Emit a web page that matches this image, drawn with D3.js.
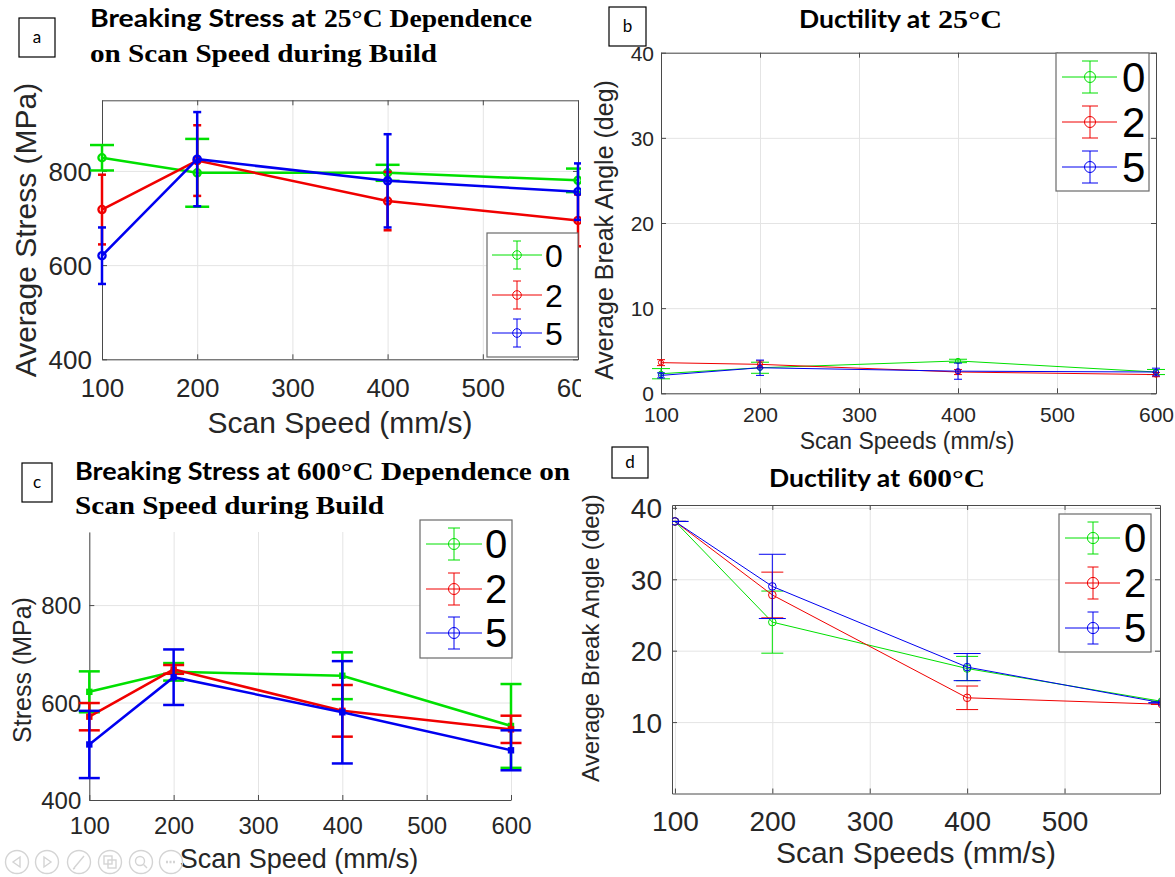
<!DOCTYPE html>
<html><head><meta charset="utf-8">
<script src="https://cdn.jsdelivr.net/npm/d3@7"></script>
<style>body{margin:0;background:#fff}svg{display:block}</style>
</head><body><svg id="c" width="1175" height="877"></svg>
<script>
// ---------- data ----------
const speeds = [100, 200, 400, 600];
const seriesNames = ["0", "2", "5"];
const speedTicks = [100, 200, 300, 400, 500, 600];
const speedTicksD = [100, 200, 300, 400, 500];
const stressTicks = [400, 600, 800];
const angleTicksB = [0, 10, 20, 30, 40];
const angleTicksD = [10, 20, 30, 40];

// (a) breaking stress at 25°C
const stress25_0 = [828, 796, 796, 780];
const stress25_0Err = [27, 72, 17, 25];
const stress25_2 = [718, 822, 736, 695];
const stress25_2Err = [74, 75, 62, 55];
const stress25_5 = [620, 825, 779, 756];
const stress25_5Err = [60, 100, 99, 60];

// (b) ductility at 25°C
const duct25_0 = [2.3, 3.0, 3.8, 2.5];
const duct25_0Err = [0.6, 0.65, 0.2, 0.3];
const duct25_2 = [3.6, 3.4, 2.5, 2.2];
const duct25_2Err = [0.35, 0.4, 0.3, 0.25];
const duct25_5 = [2.1, 3.0, 2.6, 2.5];
const duct25_5Err = [0.3, 0.9, 0.95, 0.45];

// (c) breaking stress at 600°C
const stress600_0 = [622, 663, 655, 552];
const stress600_0Err = [42, 18, 48, 86];
const stress600_2 = [571, 668, 583, 545];
const stress600_2Err = [28, 9, 53, 28];
const stress600_5 = [514, 652, 580, 502];
const stress600_5Err = [69, 57, 105, 41];

// (d) ductility at 600°C
const duct600_0 = [38.1, 24.0, 17.5, 12.9];
const duct600_0Err = [0, 4.35, 1.7, 0];
const duct600_2 = [38.1, 27.8, 13.4, 12.5];
const duct600_2Err = [0, 3.2, 1.65, 0];
const duct600_5 = [38.1, 29.0, 17.7, 12.7];
const duct600_5Err = [0, 4.5, 1.9, 0];

// ---------- style ----------
const colors = ["#00e000", "#f00000", "#0000f0"];
const axisColor = "#4a4a4a";
const gridColor = "#e4e4e4";
const textColor = "#262626";
const sans = "'Liberation Sans', Arial, sans-serif";
const serif = "'Liberation Serif', 'Times New Roman', serif";
const calib = "Lato, 'Open Sans', sans-serif";

const svg = d3.select("#c");
const defs = svg.append("defs");

function clip(id, r) {
  defs.append("clipPath").attr("id", id).append("rect")
    .attr("x", r[0]).attr("y", r[1]).attr("width", r[2]).attr("height", r[3]);
  return `url(#${id})`;
}

function drawPanel(cfg) {
  const root = svg.append("g");
  if (cfg.clip) root.attr("clip-path", clip("clip_" + cfg.id, cfg.clip));
  const x = d3.scaleLinear().domain(cfg.xDomain).range(cfg.xRange);
  const y = d3.scaleLinear().domain(cfg.yDomain).range(cfg.yRange);
  const [x0, x1] = cfg.xRange, [yb, yt] = cfg.yRange;
  const w = x1 - x0, h = yb - yt;

  // grid
  root.append("g").attr("transform", `translate(0,${yb})`)
    .call(d3.axisBottom(x).tickValues(cfg.gridX).tickSize(-h).tickFormat(""))
    .call(s => { s.select(".domain").remove(); s.selectAll("line").attr("stroke", gridColor); });
  root.append("g").attr("transform", `translate(${x0},0)`)
    .call(d3.axisLeft(y).tickValues(cfg.gridY).tickSize(-w).tickFormat(""))
    .call(s => { s.select(".domain").remove(); s.selectAll("line").attr("stroke", gridColor); });

  // axes
  const xa = root.append("g").attr("transform", `translate(0,${yb})`)
    .call(d3.axisBottom(x).tickValues(cfg.xTicks).tickSizeInner(-5).tickSizeOuter(0).tickFormat(d3.format("d")));
  xa.selectAll("text").attr("y", cfg.xTickOff).attr("dy", "0.36em")
    .attr("font-size", cfg.tickFont).attr("font-family", sans).attr("fill", textColor);
  const ya = root.append("g").attr("transform", `translate(${x0},0)`)
    .call(d3.axisLeft(y).tickValues(cfg.yTicks).tickSizeInner(-5).tickSizeOuter(0).tickFormat(d3.format("d")));
  ya.selectAll("text").attr("x", -cfg.yTickOff).attr("dy", "0.36em")
    .attr("font-size", cfg.tickFont).attr("font-family", sans).attr("fill", textColor);
  [xa, ya].forEach(a => {
    a.select(".domain").attr("stroke", axisColor);
    a.selectAll(".tick line").attr("stroke", axisColor);
  });
  if (cfg.box) {
    const ta = root.append("g").attr("transform", `translate(0,${yt})`)
      .call(d3.axisTop(x).tickValues(cfg.xTicks).tickSizeInner(-5).tickSizeOuter(0).tickFormat(""));
    const ra = root.append("g").attr("transform", `translate(${x1},0)`)
      .call(d3.axisRight(y).tickValues(cfg.yTicks).tickSizeInner(-5).tickSizeOuter(0).tickFormat(""));
    [ta, ra].forEach(a => {
      a.select(".domain").attr("stroke", axisColor);
      a.selectAll(".tick line").attr("stroke", axisColor);
    });
  }

  // data
  const dg = root.append("g");
  if (cfg.clipData) dg.attr("clip-path", clip("cd_" + cfg.id, [x0, yt, w, h]));
  cfg.series.forEach(([vals, errs], si) => {
    const col = colors[si];
    const pts = vals.map((v, i) => ({ s: speeds[i], v, e: errs[i] }));
    const cw = cfg.caps[si] / 2;
    const eg = dg.append("g").attr("stroke", col).attr("stroke-width", cfg.errLw);
    eg.selectAll(".v").data(pts).join("line")
      .attr("x1", d => x(d.s)).attr("x2", d => x(d.s))
      .attr("y1", d => y(d.v - d.e)).attr("y2", d => y(d.v + d.e));
    eg.selectAll(".t").data(pts).join("line")
      .attr("x1", d => x(d.s) - cw).attr("x2", d => x(d.s) + cw)
      .attr("y1", d => y(d.v + d.e)).attr("y2", d => y(d.v + d.e));
    eg.selectAll(".b").data(pts).join("line")
      .attr("x1", d => x(d.s) - cw).attr("x2", d => x(d.s) + cw)
      .attr("y1", d => y(d.v - d.e)).attr("y2", d => y(d.v - d.e));
    dg.append("path").datum(pts)
      .attr("fill", "none").attr("stroke", col).attr("stroke-width", cfg.lw)
      .attr("d", d3.line().x(d => x(d.s)).y(d => y(d.v)));
    if (cfg.marker === "square") {
      dg.selectAll(null).data(pts).join("rect")
        .attr("x", d => x(d.s) - cfg.mr).attr("y", d => y(d.v) - cfg.mr)
        .attr("width", cfg.mr * 2).attr("height", cfg.mr * 2).attr("fill", col);
    } else {
      dg.selectAll(null).data(pts).join("circle")
        .attr("cx", d => x(d.s)).attr("cy", d => y(d.v)).attr("r", cfg.mr)
        .attr("fill", "none").attr("stroke", col).attr("stroke-width", cfg.mSW);
    }
  });

  // legend
  const L = cfg.legend;
  const lg = root.append("g");
  lg.append("rect").attr("x", L.x).attr("y", L.y).attr("width", L.w).attr("height", L.h)
    .attr("fill", "#fff").attr("stroke", "#6a6a6a").attr("stroke-width", 1.2);
  seriesNames.forEach((name, i) => {
    const cy = L.rows[i], col = colors[i];
    const e = lg.append("g").attr("stroke", col).attr("stroke-width", 1).attr("fill", "none");
    e.append("line").attr("x1", L.lx1).attr("x2", L.lx2).attr("y1", cy).attr("y2", cy);
    e.append("line").attr("x1", L.mx).attr("x2", L.mx).attr("y1", cy - L.eh).attr("y2", cy + L.eh);
    e.append("line").attr("x1", L.mx - L.cap / 2).attr("x2", L.mx + L.cap / 2).attr("y1", cy - L.eh).attr("y2", cy - L.eh);
    e.append("line").attr("x1", L.mx - L.cap / 2).attr("x2", L.mx + L.cap / 2).attr("y1", cy + L.eh).attr("y2", cy + L.eh);
    e.append("circle").attr("cx", L.mx).attr("cy", cy).attr("r", L.r);
    lg.append("text").attr("x", L.tx).attr("y", cy).attr("dy", "0.36em")
      .attr("font-family", sans).attr("font-size", L.font).attr("fill", "#000").text(name);
  });

  // axis labels
  root.append("text").attr("x", cfg.xLabelPos[0]).attr("y", cfg.xLabelPos[1])
    .attr("text-anchor", "middle").attr("font-family", sans).attr("font-size", cfg.xLabelFont)
    .attr("fill", textColor).text(cfg.xLabel);
  root.append("text").attr("transform", `translate(${cfg.yLabelPos[0]},${cfg.yLabelPos[1]}) rotate(-90)`)
    .attr("text-anchor", "middle").attr("font-family", sans).attr("font-size", cfg.yLabelFont)
    .attr("fill", textColor).text(cfg.yLabel);

  // title pieces
  cfg.title.forEach(t => {
    root.append("text").attr("x", t.x).attr("y", t.y)
      .attr("font-family", t.f === "s" ? serif : calib).attr("font-weight", "bold")
      .attr("font-size", t.size).attr("fill", "#000")
      .attr("textLength", t.len).attr("lengthAdjust", "spacingAndGlyphs").text(t.txt);
  });

  // panel letter box
  const B = cfg.tag;
  root.append("rect").attr("x", B[0]).attr("y", B[1]).attr("width", B[2]).attr("height", B[3])
    .attr("fill", "#fff").attr("stroke", "#000").attr("stroke-width", 1.2);
  root.append("text").attr("x", B[0] + B[2] / 2).attr("y", B[1] + B[3] / 2).attr("dy", "0.33em")
    .attr("text-anchor", "middle").attr("font-family", calib).attr("font-size", 17)
    .attr("fill", "#000").text(cfg.id);
}

drawPanel({
  id: "a", clip: [0, 0, 581, 440],
  xDomain: [100, 600], yDomain: [400, 950], xRange: [102, 578], yRange: [359.3, 100.3],
  box: true, xTicks: speedTicks, yTicks: stressTicks, gridX: speedTicks, gridY: stressTicks,
  series: [[stress25_0, stress25_0Err], [stress25_2, stress25_2Err], [stress25_5, stress25_5Err]],
  lw: 2.5, errLw: 2.5, caps: [24, 8, 8], marker: "circle", mr: 3.6, mSW: 2.3,
  tickFont: 26, xTickOff: 28, yTickOff: 10,
  xLabel: "Scan Speed (mm/s)", xLabelPos: [340, 433], xLabelFont: 30,
  yLabel: "Average Stress (MPa)", yLabelPos: [36, 230], yLabelFont: 30,
  legend: { x: 487, y: 233, w: 91, h: 124, rows: [255, 295, 333], lx1: 492, lx2: 542, mx: 517, tx: 545, font: 32, eh: 14, cap: 8, r: 4.3 },
  title: [
    { txt: "Breaking Stress at", x: 90, y: 27, len: 226, size: 24, f: "c" },
    { txt: "25°C Dependence", x: 324, y: 27, len: 208, size: 25, f: "s" },
    { txt: "on Scan Speed during Build", x: 90, y: 62, len: 347, size: 25, f: "s" }
  ],
  tag: [19, 18, 36, 39]
});

drawPanel({
  id: "b", clip: null,
  xDomain: [100, 600], yDomain: [0, 40], xRange: [661, 1156], yRange: [393.3, 52.7],
  box: true, xTicks: speedTicks, yTicks: angleTicksB, gridX: speedTicks, gridY: angleTicksB,
  series: [[duct25_0, duct25_0Err], [duct25_2, duct25_2Err], [duct25_5, duct25_5Err]],
  lw: 1, errLw: 1, caps: [18, 8, 8], marker: "circle", mr: 2.6, mSW: 1,
  tickFont: 21, xTickOff: 21, yTickOff: 7,
  xLabel: "Scan Speeds (mm/s)", xLabelPos: [907, 449], xLabelFont: 23,
  yLabel: "Average Break Angle (deg)", yLabelPos: [613, 230], yLabelFont: 25,
  legend: { x: 1056, y: 53, w: 93, h: 138, rows: [77, 122, 167], lx1: 1062, lx2: 1117, mx: 1090, tx: 1122, font: 42, eh: 16, cap: 16, r: 5.5 },
  title: [
    { txt: "Ductility at", x: 799, y: 28, len: 131, size: 24, f: "c" },
    { txt: "25°C", x: 938, y: 28, len: 64, size: 25, f: "s" }
  ],
  tag: [609, 7, 37, 39]
});

drawPanel({
  id: "c", clip: null,
  xDomain: [100, 600], yDomain: [400, 950], xRange: [89.3, 511], yRange: [800, 532],
  box: false, xTicks: speedTicks, yTicks: stressTicks, gridX: speedTicks, gridY: stressTicks,
  series: [[stress600_0, stress600_0Err], [stress600_2, stress600_2Err], [stress600_5, stress600_5Err]],
  lw: 2.5, errLw: 2.5, caps: [21, 21, 21], marker: "square", mr: 3.2, mSW: 0,
  tickFont: 24, xTickOff: 25, yTickOff: 8,
  xLabel: "Scan Speed (mm/s)", xLabelPos: [299, 868], xLabelFont: 27,
  yLabel: "Stress (MPa)", yLabelPos: [31, 670], yLabelFont: 25,
  legend: { x: 420, y: 520, w: 92, h: 138, rows: [544, 589, 633], lx1: 426, lx2: 482, mx: 454, tx: 485, font: 40, eh: 16, cap: 12, r: 5.5 },
  title: [
    { txt: "Breaking Stress at", x: 75, y: 480, len: 215, size: 24, f: "c" },
    { txt: "600°C Dependence on", x: 297, y: 480, len: 273, size: 25, f: "s" },
    { txt: "Scan Speed during Build", x: 75, y: 514, len: 309, size: 25, f: "s" }
  ],
  tag: [22, 463, 30, 39]
});

drawPanel({
  id: "d", clip: null, clipData: true,
  xDomain: [97, 598], yDomain: [0, 40.4], xRange: [672, 1160], yRange: [793.5, 505],
  box: true, xTicks: speedTicksD, yTicks: angleTicksD, gridX: speedTicksD, gridY: angleTicksD,
  series: [[duct600_0, duct600_0Err], [duct600_2, duct600_2Err], [duct600_5, duct600_5Err]],
  lw: 1, errLw: 1, caps: [22, 22, 27], marker: "circle", mr: 3.8, mSW: 1,
  tickFont: 28, xTickOff: 27, yTickOff: 10,
  xLabel: "Scan Speeds (mm/s)", xLabelPos: [916, 863], xLabelFont: 30,
  yLabel: "Average Break Angle (deg)", yLabelPos: [599, 638], yLabelFont: 24,
  legend: { x: 1059, y: 514, w: 92, h: 138, rows: [538, 583, 628], lx1: 1065, lx2: 1120, mx: 1093, tx: 1124, font: 40, eh: 16, cap: 11, r: 5.6 },
  title: [
    { txt: "Ductility at", x: 769, y: 487, len: 131, size: 24, f: "c" },
    { txt: "600°C", x: 908, y: 487, len: 77, size: 25, f: "s" }
  ],
  tag: [612, 447, 36, 31]
});

// slideshow control icons (bottom-left)
const iconX = [17, 47, 79, 110, 141, 171];
const ig = svg.append("g").attr("stroke", "#d4d4d4").attr("fill", "none").attr("stroke-width", 1.4);
iconX.forEach((cx, i) => {
  const cy = 862;
  ig.append("circle").attr("cx", cx).attr("cy", cy).attr("r", 11.5);
  if (i === 0) ig.append("path").attr("d", `M${cx+3},${cy-5} L${cx-4},${cy} L${cx+3},${cy+5} Z`);
  if (i === 1) ig.append("path").attr("d", `M${cx-3},${cy-5} L${cx+4},${cy} L${cx-3},${cy+5} Z`);
  if (i === 2) ig.append("path").attr("d", `M${cx-5},${cy+6} L${cx+5},${cy-6} M${cx-6},${cy+7} l2,-1`);
  if (i === 3) { ig.append("rect").attr("x", cx - 6).attr("y", cy - 6).attr("width", 8).attr("height", 8);
                 ig.append("rect").attr("x", cx - 2).attr("y", cy - 2).attr("width", 8).attr("height", 8); }
  if (i === 4) { ig.append("circle").attr("cx", cx - 1).attr("cy", cy - 1).attr("r", 4.5);
                 ig.append("path").attr("d", `M${cx+2.5},${cy+2.5} L${cx+6},${cy+6}`); }
  if (i === 5) ig.append("path").attr("d", `M${cx-5},${cy} H${cx+5}`).attr("stroke-dasharray", "2,1.5").attr("stroke-width", 2.5);
});
</script>
</body></html>
